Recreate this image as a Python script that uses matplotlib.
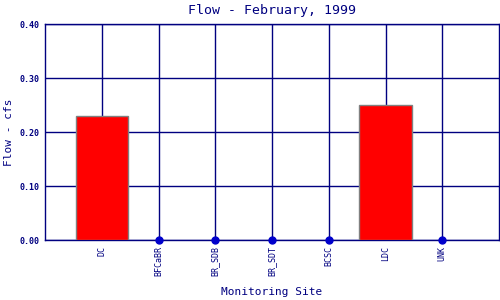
import matplotlib
matplotlib.use('Agg')
import matplotlib.pyplot as plt

# flow per monitoring site, February 1999
sites = ['DC', 'BFCaBR', 'BR_SDB', 'BR_SDT', 'BCSC', 'LDC', 'UNK']
flow = [0.23, 0.0, 0.0, 0.0, 0.0, 0.25, 0.0]

navy = '#000080'
plt.rcParams['font.family'] = 'DejaVu Sans Mono'

fig = plt.figure(figsize=(5, 3), dpi=100)
ax = fig.add_axes([45 / 500, 60 / 300, 454 / 500, 216 / 300])

xs = list(range(1, len(sites) + 1))
for x, v in zip(xs, flow):
    if v > 0:
        ax.bar(x, v, width=0.92, color='#ff0000', edgecolor='#808080', linewidth=1, zorder=3)
    else:
        # zero readings show up as a dot on the axis
        ax.plot(x, v, 'o', color='#0000cc', markersize=5, zorder=4, clip_on=False)

ax.set_xlim(0, len(sites) + 1)
ax.set_ylim(0, 0.4)
ax.set_xticks(xs)
ax.set_xticklabels(sites, rotation=90, fontsize=6, color=navy)
ax.set_yticks([0, 0.1, 0.2, 0.3, 0.4])
ax.set_yticklabels(['%.2f' % t for t in [0, 0.1, 0.2, 0.3, 0.4]], fontsize=6, color=navy, fontweight='bold')
ax.tick_params(length=0, pad=4)
ax.grid(True, color=navy, linewidth=1, zorder=1)
for s in ax.spines.values():
    s.set_color(navy)
    s.set_linewidth(1)

ax.set_xlabel('Monitoring Site', fontsize=8, color=navy, labelpad=8)
ax.set_ylabel('Flow - cfs', fontsize=8, color=navy)
ax.set_title('Flow - February, 1999', fontsize=9.5, color=navy, pad=7)

fig.savefig('out.png', dpi=100)
